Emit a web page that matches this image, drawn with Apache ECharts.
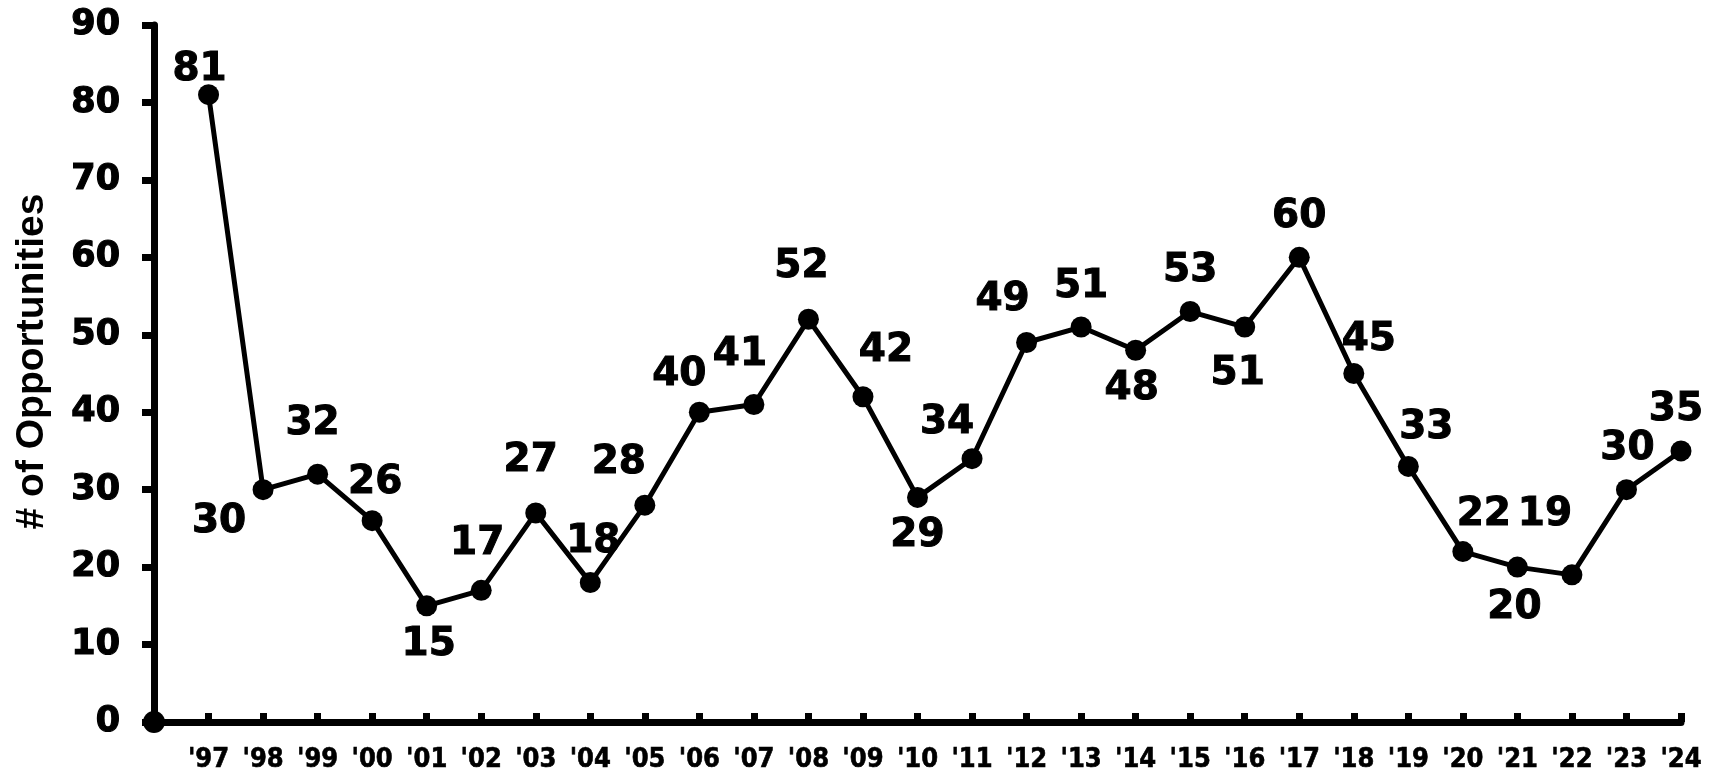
<!DOCTYPE html>
<html>
<head>
<meta charset="utf-8">
<script src="https://cdn.jsdelivr.net/npm/echarts@6/dist/echarts.min.js"></script>
<style>
html,body{margin:0;padding:0;background:#fff;}
#chart{width:1723px;height:772px;}
</style>
</head>
<body>
<div id="chart"></div>
<script>
// ---- data ----
const categories = ['', "'97", "'98", "'99", "'00", "'01", "'02", "'03", "'04", "'05", "'06", "'07", "'08", "'09", "'10", "'11", "'12", "'13", "'14", "'15", "'16", "'17", "'18", "'19", "'20", "'21", "'22", "'23", "'24"];
const opportunities = [null, 81, 30, 32, 26, 15, 17, 27, 18, 28, 40, 41, 52, 42, 29, 34, 49, 51, 48, 53, 51, 60, 45, 33, 22, 20, 19, 30, 35];
const originPoint = [0];
const yTicks = [0, 10, 20, 30, 40, 50, 60, 70, 80, 90];

// ---- label layout (offsets from marker centre, px) ----
const labelOffsets = [
  null, [-9, -25], [-44, 32], [-5, -50], [3, -38], [2, 39], [-4, -46], [-5, -52], [3, -41],
  [-26, -42], [-20, -37], [-14, -50], [-7, -52], [23, -46], [0, 38], [-25, -36], [-24, -43],
  [0, -40], [-4, 39], [0, -41], [-7, 47], [0, -40], [15, -34], [18, -39], [21, -37],
  [-3, 41], [-27, -60], [1, -41], [-5, -41]
];

const chart = echarts.init(document.getElementById('chart'));
const lineData = opportunities.map((v, i) => {
  if (v === null) return null;
  return {
    value: v,
    label: { offset: labelOffsets[i] }
  };
});

chart.setOption({
  animation: false,
  backgroundColor: '#ffffff',
  grid: { left: 154, right: 42, top: 25, bottom: 50, containLabel: false, outerBoundsMode: 'none' },
  xAxis: {
    type: 'category',
    data: categories,
    boundaryGap: false,
    axisLine: { lineStyle: { color: '#000', width: 7 } },
    axisTick: { show: true, inside: true, length: 9, lineStyle: { color: '#000', width: 7 } },
    axisLabel: {
      color: '#000', fontFamily: 'DejaVu Sans Condensed, DejaVu Sans', fontWeight: 'bold',
      fontSize: 27, margin: 24, interval: 0, textBorderColor: '#000', textBorderWidth: 0.6
    },
    splitLine: { show: false }
  },
  yAxis: {
    type: 'value',
    min: yTicks[0],
    max: yTicks[yTicks.length - 1],
    interval: 10,
    name: '# of Opportunities',
    nameLocation: 'middle',
    nameRotate: 90,
    nameGap: 102,
    nameTextStyle: { color: '#000', fontFamily: 'Liberation Sans', fontWeight: 'bold', fontSize: 39, padding: [0, 0, 0, 24] },
    axisLine: { show: true, lineStyle: { color: '#000', width: 7 } },
    axisTick: { show: true, inside: false, length: 12, lineStyle: { color: '#000', width: 7 } },
    axisLabel: { color: '#000', fontFamily: 'DejaVu Sans', fontWeight: 'bold', fontSize: 35, margin: 34, textBorderColor: '#000', textBorderWidth: 1.2 },
    splitLine: { show: false }
  },
  series: [
    {
      type: 'line',
      data: lineData,
      connectNulls: false,
      symbol: 'circle',
      symbolSize: 21,
      itemStyle: { color: '#000', opacity: 1 },
      lineStyle: { color: '#000', width: 5 },
      label: {
        show: true,
        position: 'inside',
        align: 'center',
        verticalAlign: 'middle',
        color: '#000',
        fontFamily: 'DejaVu Sans',
        fontWeight: 'bold',
        fontSize: 39,
        textBorderColor: '#000',
        textBorderWidth: 1
      },
      z: 3
    },
    {
      type: 'scatter',
      data: originPoint,
      symbol: 'circle',
      symbolSize: 22,
      itemStyle: { color: '#000', opacity: 1 },
      label: { show: false },
      z: 4
    }
  ]
});
</script>
</body>
</html>
